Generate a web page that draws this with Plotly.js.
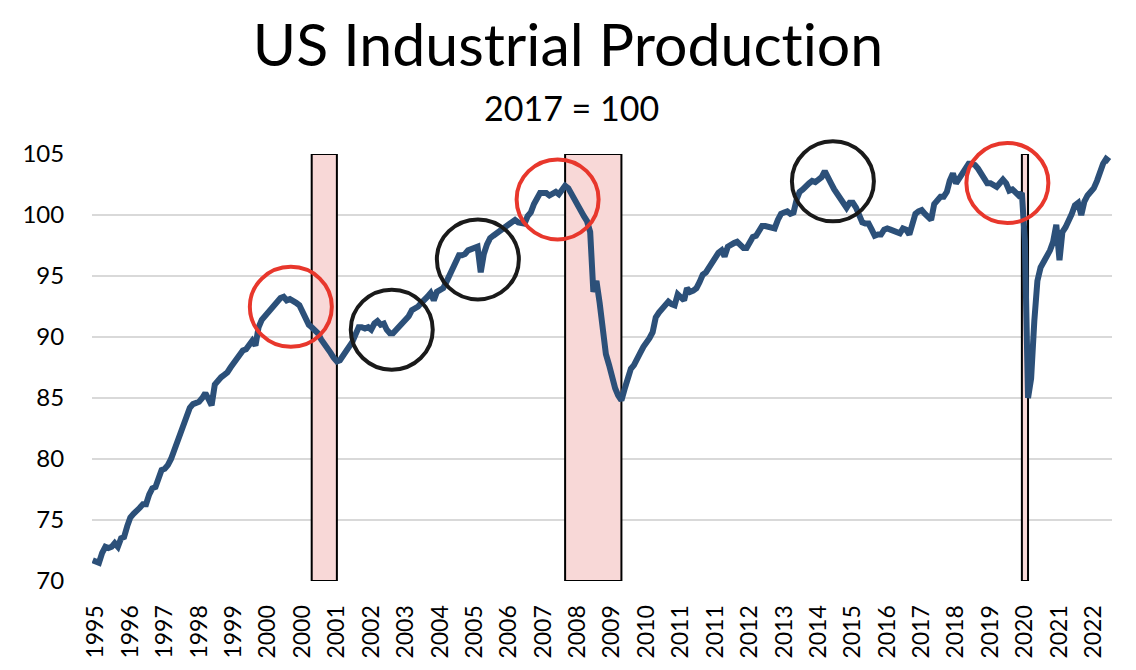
<!DOCTYPE html>
<html>
<head>
<meta charset="utf-8">
<script src="https://cdn.plot.ly/plotly-3.0.1.min.js"></script>
<style>
html,body{margin:0;padding:0;background:#fff;}
#chart{width:1136px;height:670px;}
svg text{font-variant-ligatures:none;font-feature-settings:"liga" 0;}
</style>
</head>
<body>
<div id="chart"></div>
<script>
// Monthly series, first value = May 1995, last value = June 2022 (2017 = 100)
const firstYear = 1995;
const firstMonth = 5;
const ipValues = [
  // 1995 May-Dec
  71.7, 71.6, 71.5, 72.3, 72.8, 72.7, 72.8, 73.1,
  // 1996
  72.8, 73.5, 73.6, 74.5, 75.2, 75.5, 75.7, 76.0, 76.3, 76.3, 77.1, 77.6,
  // 1997
  77.7, 78.5, 79.1, 79.2, 79.5, 80.0, 80.7, 81.5, 82.3, 83.0, 83.7, 84.2,
  // 1998
  84.5, 84.6, 84.7, 85.0, 85.4, 84.9, 84.4, 86.1, 86.5, 86.7, 86.9, 87.1,
  // 1999
  87.5, 87.9, 88.1, 88.5, 88.9, 89.0, 89.3, 89.7, 89.3, 90.8, 91.4, 91.7,
  // 2000
  91.9, 92.2, 92.5, 92.9, 93.2, 93.3, 93.0, 93.1, 93.0, 92.8, 92.6, 92.0,
  // 2001
  91.4, 91.0, 90.8, 90.6, 90.3, 89.8, 89.5, 89.2, 88.7, 88.3, 88.0, 88.1,
  // 2002
  88.5, 88.8, 89.2, 89.6, 90.2, 90.8, 90.8, 90.7, 90.8, 90.6, 91.1, 91.3,
  // 2003
  91.0, 91.1, 90.6, 90.3, 90.3, 90.6, 90.9, 91.1, 91.4, 91.7, 92.2, 92.3,
  // 2004
  92.5, 92.8, 93.0, 93.3, 93.6, 93.0, 93.7, 93.8, 94.0, 94.5, 95.1, 95.8,
  // 2005
  96.4, 96.7, 96.7, 96.8, 97.1, 97.2, 97.3, 97.4, 95.3, 96.8, 97.6, 98.1,
  // 2006
  98.3, 98.5, 98.7, 98.9, 99.1, 99.3, 99.4, 99.6, 99.4, 99.3, 99.3, 99.9,
  // 2007
  100.2, 100.9, 101.3, 101.8, 101.8, 101.8, 101.6, 101.8, 101.9, 101.7, 102.1, 102.4,
  // 2008
  102.2, 101.7, 101.3, 100.7, 100.3, 99.9, 99.5, 98.6, 93.7, 94.6, 92.8, 90.3,
  // 2009
  88.6, 87.7, 86.6, 85.8, 85.2, 84.8, 85.7, 86.8, 87.4, 87.7, 88.1, 88.7,
  // 2010
  89.2, 89.5, 89.9, 90.4, 91.6, 92.0, 92.3, 92.6, 92.9, 92.7, 92.6, 93.5,
  // 2011
  93.2, 93.0, 94.0, 93.7, 93.8, 94.0, 94.5, 95.1, 95.3, 95.7, 96.0, 96.6,
  // 2012
  96.9, 97.1, 96.6, 97.4, 97.6, 97.7, 97.8, 97.5, 97.3, 97.3, 97.9, 98.2,
  // 2013
  98.3, 98.7, 99.1, 99.1, 99.0, 99.0, 98.9, 99.6, 100.1, 100.2, 100.3, 100.1,
  // 2014
  100.2, 101.3, 101.9, 102.1, 102.4, 102.6, 102.8, 102.7, 102.9, 103.1, 103.6, 103.2,
  // 2015
  102.6, 102.1, 101.7, 101.3, 100.9, 100.6, 101.0, 101.0, 100.6, 100.0, 99.4, 99.3,
  // 2016
  99.3, 98.8, 98.3, 98.4, 98.4, 98.8, 98.9, 98.8, 98.7, 98.5, 98.5, 98.9,
  // 2017
  98.8, 98.4, 99.4, 100.1, 100.3, 100.4, 100.1, 99.8, 99.6, 100.9, 101.3, 101.5,
  // 2018
  101.5, 101.9, 102.8, 103.4, 102.6, 103.0, 103.5, 104.0, 104.2, 104.2, 104.1, 103.8,
  // 2019
  103.3, 102.9, 102.6, 102.6, 102.5, 102.3, 102.6, 102.9, 102.6, 102.0, 102.1, 101.9,
  // 2020
  101.6, 101.8, 97.9, 85.0, 86.6, 91.3, 94.6, 95.7, 96.1, 96.7, 97.1, 97.8,
  // 2021
  99.2, 96.3, 98.6, 99.0, 99.5, 100.1, 100.8, 101.0, 100.0, 101.1, 101.6, 101.9,
  // 2022 Jan-Jun
  102.2, 102.8, 103.5, 104.2, 104.6, 104.4
];

// Axis labels (one every 11 months from June 1995, as in the original workbook)
const tickLabels = ['1995','1996','1997','1998','1999','2000','2000','2001','2002','2003',
  '2004','2005','2006','2007','2008','2009','2010','2011','2011','2012',
  '2013','2014','2015','2016','2017','2018','2019','2020','2021','2022'];
const tickFirstOffset = 1;   // months after the first data point
const tickStepMonths = 11;

// Recessions
const recessionStart = ['2001-03-01', '2007-12-01', '2020-02-01'];
const recessionEnd   = ['2001-11-01', '2009-06-01', '2020-04-01'];

// Highlight circles
const circleDates  = ['2000-08-10', '2003-04-19', '2005-08-04', '2007-09-19', '2015-01-19', '2019-09-13'];
const circleValues = [92.47, 90.60, 96.36, 101.28, 102.76, 102.62];
const circleColors = ['#E8372C', '#1A1A1A', '#1A1A1A', '#E8372C', '#1A1A1A', '#E8372C'];

const xRange = ['1995-04-24', '2022-06-27'];
const yRange = [70, 105];

function monthDate(offset) {
  const idx = (firstMonth - 1) + offset;
  const y = firstYear + Math.floor(idx / 12);
  const mo = (idx % 12) + 1;
  return y + '-' + (mo < 10 ? '0' : '') + mo + '-01';
}
const dates = ipValues.map((_, i) => monthDate(i));
const tickVals = tickLabels.map((_, i) => monthDate(tickFirstOffset + i * tickStepMonths));

// paper-coordinate helpers so the circles are not clipped at the plot edge
const t0 = Date.parse(xRange[0]), t1 = Date.parse(xRange[1]);
const toPaperX = d => (Date.parse(d) - t0) / (t1 - t0);
const toPaperY = v => (v - yRange[0]) / (yRange[1] - yRange[0]);

const shapes = [];
recessionStart.forEach((s, i) => {
  shapes.push({
    type: 'rect', xref: 'x', yref: 'y', x0: s, x1: recessionEnd[i], y0: yRange[0], y1: yRange[1],
    fillcolor: '#F8D8D7', line: {color: '#000000', width: 2}, layer: 'between'
  });
});
circleDates.forEach((d, i) => {
  shapes.push({
    type: 'circle', xref: 'paper', yref: 'paper', xsizemode: 'pixel', ysizemode: 'pixel',
    xanchor: toPaperX(d), yanchor: toPaperY(circleValues[i]), x0: -41, x1: 41, y0: -40, y1: 40,
    line: {color: circleColors[i], width: 4}, fillcolor: 'rgba(0,0,0,0)', layer: 'above'
  });
});

const FONT = 'Lato, "Open Sans", sans-serif';

const trace = {
  x: dates, y: ipValues, type: 'scatter', mode: 'lines',
  line: {color: '#2C5079', width: 6}, hoverinfo: 'skip'
};

const layout = {
  width: 1136, height: 670,
  margin: {l: 92, r: 24, t: 154, b: 89, pad: 0},
  paper_bgcolor: '#ffffff', plot_bgcolor: '#ffffff',
  showlegend: false, hovermode: false,
  font: {family: FONT, color: '#000000'},
  title: {
    text: 'US Industrial Production',
    font: {family: FONT, size: 59, color: '#000000'},
    x: 0.5, xref: 'container', xanchor: 'center',
    y: 1 - 45 / 670, yref: 'container', yanchor: 'middle'
  },
  annotations: [{
    text: '2017 = 100', showarrow: false,
    xref: 'paper', yref: 'paper', x: (571 - 92) / 1020, y: (581 - 107) / 427,
    xanchor: 'center', yanchor: 'middle',
    font: {family: FONT, size: 34, color: '#000000'}
  }],
  xaxis: {
    type: 'date', range: xRange,
    tickmode: 'array', tickvals: tickVals, ticktext: tickLabels,
    tickangle: -90, tickfont: {family: FONT, size: 23, color: '#000000'},
    ticks: 'outside', ticklen: 14, tickcolor: 'rgba(0,0,0,0)',
    showgrid: false, zeroline: false, showline: false
  },
  yaxis: {
    range: yRange, tickmode: 'array', tickvals: [70, 75, 80, 85, 90, 95, 100, 105],
    tickfont: {family: FONT, size: 24, color: '#000000'},
    ticks: 'outside', ticklen: 22, tickcolor: 'rgba(0,0,0,0)',
    showgrid: true, gridcolor: '#D9D9D9', gridwidth: 2,
    zeroline: false, showline: false
  },
  shapes: shapes
};

Plotly.newPlot('chart', [trace], layout, {staticPlot: true, displayModeBar: false});
</script>
</body>
</html>
